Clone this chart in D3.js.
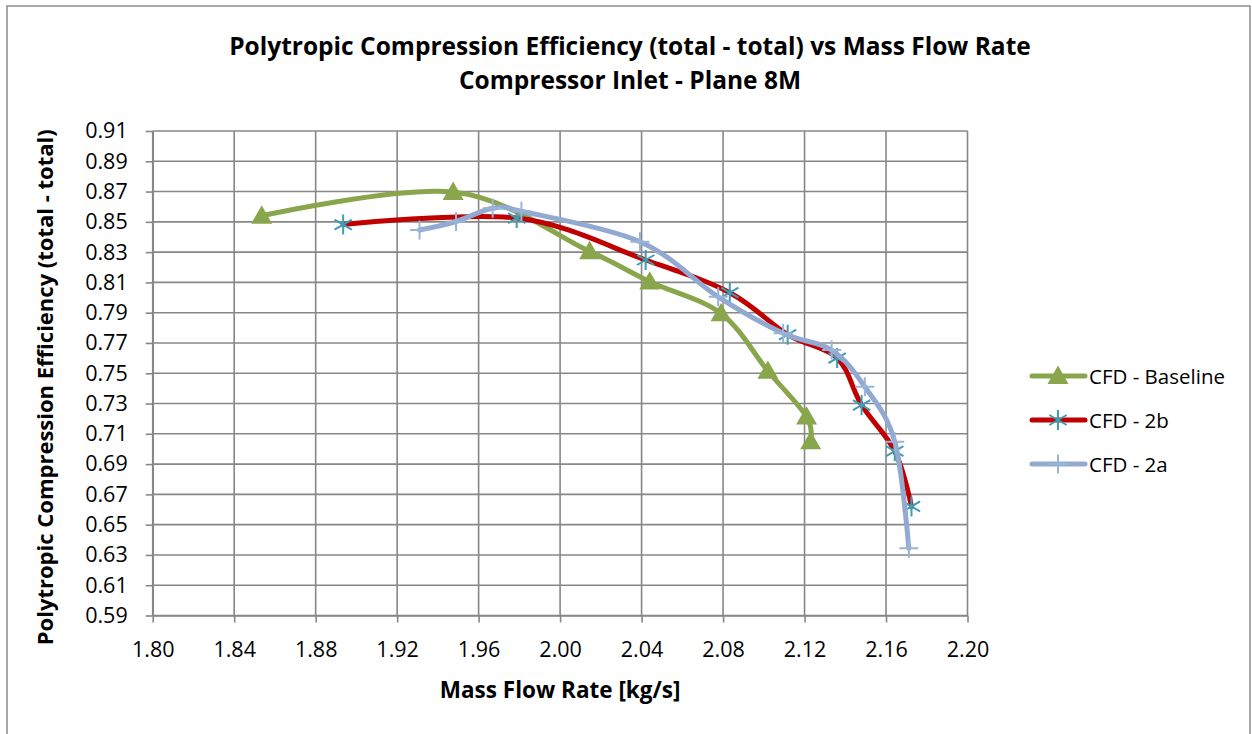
<!DOCTYPE html>
<html>
<head>
<meta charset="utf-8">
<script src="https://cdn.jsdelivr.net/npm/d3@7"></script>
<style>
  html, body { margin: 0; padding: 0; background: #fff; }
  svg { display: block; font-family: "Open Sans", "Liberation Sans", sans-serif; }
</style>
</head>
<body>
<svg id="chart" width="1252" height="734"></svg>
<script>
// Mass flow rate [kg/s] and polytropic efficiency for each CFD configuration
const baselineFlow = [1.8535, 1.9475, 2.0145, 2.0440, 2.0790, 2.1020, 2.1210, 2.1230];
const baselineEff  = [0.8540, 0.8697, 0.8305, 0.8105, 0.7895, 0.7515, 0.7213, 0.7050];

const cfd2bFlow = [1.8935, 1.9787, 2.0420, 2.0833, 2.1117, 2.1360, 2.1480, 2.1643, 2.1725];
const cfd2bEff  = [0.8482, 0.8525, 0.8248, 0.8032, 0.7755, 0.7600, 0.7290, 0.6985, 0.6620];

const cfd2aFlow = [1.9310, 1.9489, 1.9669, 1.9810, 2.0392, 2.0776, 2.1095, 2.1333, 2.1496, 2.1643, 2.1712];
const cfd2aEff  = [0.8446, 0.8502, 0.8590, 0.8570, 0.8369, 0.8005, 0.7764, 0.7653, 0.7411, 0.7048, 0.6344];

const xTicks = [1.80, 1.84, 1.88, 1.92, 1.96, 2.00, 2.04, 2.08, 2.12, 2.16, 2.20];
const yTicks = [0.59, 0.61, 0.63, 0.65, 0.67, 0.69, 0.71, 0.73, 0.75, 0.77, 0.79, 0.81, 0.83, 0.85, 0.87, 0.89, 0.91];

const seriesNames = ["CFD - Baseline", "CFD - 2b", "CFD - 2a"];

const titleLines = [
  "Polytropic Compression Efficiency (total - total) vs Mass Flow Rate",
  "Compressor Inlet - Plane 8M"
];
const xTitle = "Mass Flow Rate [kg/s]";
const yTitle = "Polytropic Compression Efficiency (total - total)";

const svg = d3.select("#chart");

const plot = { left: 152.7, right: 967.5, top: 131, bottom: 615.5 };

const x = d3.scaleLinear().domain([1.80, 2.20]).range([plot.left, plot.right]);
const y = d3.scaleLinear().domain([0.59, 0.91]).range([plot.bottom, plot.top]);

const gridColor = "#878787";

// outer chart frame
svg.append("rect")
  .attr("x", 7).attr("y", 6).attr("width", 1243).attr("height", 740)
  .attr("fill", "none").attr("stroke", "#8c8c8c").attr("stroke-width", 1.5);

// gridlines
const grid = svg.append("g");
grid.selectAll("line.v").data(xTicks).join("line")
  .attr("x1", d => x(d)).attr("x2", d => x(d))
  .attr("y1", plot.top).attr("y2", plot.bottom)
  .attr("stroke", gridColor).attr("stroke-width", 1.6);
grid.selectAll("line.h").data(yTicks).join("line")
  .attr("x1", plot.left).attr("x2", plot.right)
  .attr("y1", d => y(d)).attr("y2", d => y(d))
  .attr("stroke", gridColor).attr("stroke-width", 1.6);

// axes
const xAxis = d3.axisBottom(x).tickValues(xTicks).tickFormat(d3.format(".2f"))
  .tickSizeInner(7).tickSizeOuter(0).tickPadding(19);
const yAxis = d3.axisLeft(y).tickValues(yTicks).tickFormat(d3.format(".2f"))
  .tickSizeInner(7).tickSizeOuter(0).tickPadding(18);

const gx = svg.append("g").attr("transform", `translate(0,${plot.bottom})`).call(xAxis);
const gy = svg.append("g").attr("transform", `translate(${plot.left},0)`).call(yAxis);
[gx, gy].forEach(g => {
  g.select(".domain").attr("stroke", gridColor).attr("stroke-width", 1.6);
  g.selectAll(".tick line").attr("stroke", gridColor).attr("stroke-width", 1.6);
  g.selectAll(".tick text")
    .attr("fill", "#000")
    .style("font-family", "'Open Sans', sans-serif")
    .style("font-size", "21.5px");
});
gx.selectAll(".tick text").attr("dy", "0.71em");

// titles
const title = svg.append("g").attr("font-weight", "bold").attr("text-anchor", "middle")
  .style("font-size", "24.5px");
title.selectAll("text").data(titleLines).join("text")
  .attr("x", 630).attr("y", (d, i) => 55 + i * 34)
  .text(d => d);

svg.append("text")
  .attr("x", plot.left + (plot.right - plot.left) / 2).attr("y", 698)
  .attr("text-anchor", "middle").attr("font-weight", "bold")
  .style("font-size", "22.5px").text(xTitle);

svg.append("text")
  .attr("transform", `translate(53,${(plot.top + plot.bottom) / 2 + 14}) rotate(-90)`)
  .attr("text-anchor", "middle").attr("font-weight", "bold")
  .style("font-size", "22px").text(yTitle);

// series definitions
const series = [
  { name: seriesNames[0], flow: baselineFlow, eff: baselineEff, color: "#8aa64c", marker: "triangle", markerColor: "#8aa64c" },
  { name: seriesNames[1], flow: cfd2bFlow, eff: cfd2bEff, color: "#c00000", marker: "star", markerColor: "#3d9db4" },
  { name: seriesNames[2], flow: cfd2aFlow, eff: cfd2aEff, color: "#92a9d1", marker: "plus", markerColor: "#9ab3d8" }
];

const line = d3.line()
  .x(d => x(d[0])).y(d => y(d[1]))
  .curve(d3.curveCardinal.tension(0));

function drawMarker(g, kind, color, cx, cy) {
  if (kind === "triangle") {
    const s = 10.5;
    g.append("path")
      .attr("d", `M${cx},${cy - s}L${cx + s},${cy + s * 0.75}L${cx - s},${cy + s * 0.75}Z`)
      .attr("fill", color);
  } else if (kind === "star") {
    const r = 10;
    const a = r * 0.866;
    g.append("path")
      .attr("d", `M${cx},${cy - r}L${cx},${cy + r}` +
                 `M${cx - a},${cy - r / 2}L${cx + a},${cy + r / 2}` +
                 `M${cx - a},${cy + r / 2}L${cx + a},${cy - r / 2}`)
      .attr("stroke", color).attr("stroke-width", 2).attr("fill", "none");
  } else {
    const r = 9.5;
    g.append("path")
      .attr("d", `M${cx - r},${cy}L${cx + r},${cy}M${cx},${cy - r}L${cx},${cy + r}`)
      .attr("stroke", color).attr("stroke-width", 2).attr("fill", "none");
  }
}

series.forEach(s => {
  const pts = s.flow.map((f, i) => [f, s.eff[i]]);
  const g = svg.append("g");
  g.append("path").datum(pts)
    .attr("d", line)
    .attr("fill", "none").attr("stroke", s.color)
    .attr("stroke-width", 5).attr("stroke-linecap", "round").attr("stroke-linejoin", "round");
  pts.forEach(p => drawMarker(g, s.marker, s.markerColor, x(p[0]), y(p[1])));
});

// legend
const legend = svg.append("g");
series.forEach((s, i) => {
  const ly = 376 + i * 44;
  const g = legend.append("g");
  g.append("line").attr("x1", 1032).attr("x2", 1085).attr("y1", ly).attr("y2", ly)
    .attr("stroke", s.color).attr("stroke-width", 5).attr("stroke-linecap", "round");
  drawMarker(g, s.marker, s.markerColor, 1058, ly);
  g.append("text").attr("x", 1089).attr("y", ly + 7.5)
    .style("font-size", "20.5px").text(s.name);
});
</script>
</body>
</html>
